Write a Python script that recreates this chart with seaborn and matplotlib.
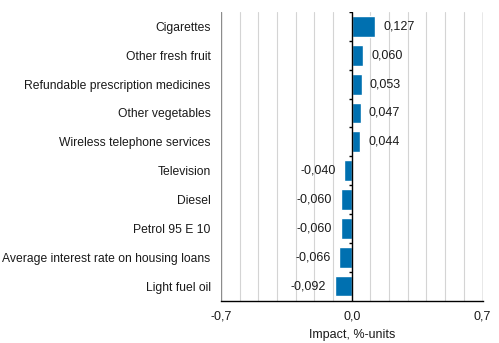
import matplotlib
matplotlib.use("Agg")
import matplotlib.pyplot as plt
import seaborn as sns
import pandas as pd
import numpy as np

categories = [
    "Cigarettes",
    "Other fresh fruit",
    "Refundable prescription medicines",
    "Other vegetables",
    "Wireless telephone services",
    "Television",
    "Diesel",
    "Petrol 95 E 10",
    "Average interest rate on housing loans",
    "Light fuel oil",
]
impact = [0.127, 0.060, 0.053, 0.047, 0.044, -0.040, -0.060, -0.060, -0.066, -0.092]
x_ticks = [-0.7, 0.0, 0.7]
x_tick_labels = ["-0,7", "0,0", "0,7"]
x_title = "Impact, %-units"

df = pd.DataFrame({"category": categories, "impact": impact})

sns.set_style("white")
plt.rcParams["font.family"] = ["Liberation Sans", "DejaVu Sans"]
plt.rcParams["font.size"] = 9

fig = plt.figure(figsize=(4.99, 3.43), dpi=100)
ax = fig.add_axes([221 / 499, 1 - 300.5 / 343, (482.5 - 221) / 499, (300.5 - 12) / 343])

sns.barplot(data=df, y="category", x="impact", orient="h", color="#0070b0",
            saturation=1, width=0.72, ax=ax, zorder=3)

ax.set_xlim(-0.7, 0.7)
ax.set_ylim(len(categories) - 0.5, -0.5)

# vertical gridlines every 0.1
for g in np.round(np.arange(-0.6, 0.61, 0.1), 1):
    if abs(g) < 1e-9:
        continue
    ax.axvline(g, color="#d4d4d4", lw=0.8, zorder=1)
for g in (-0.7, 0.7):
    ax.axvline(g, color="#8c8c8c", lw=1.0, zorder=1)

# zero line with category separators
ax.axvline(0, color="black", lw=1.0, zorder=4)
tick_len = 0.016
for b in np.arange(-0.5, len(categories) - 0.5, 1.0):
    ax.plot([-tick_len, 0], [b, b], color="black", lw=1.0, zorder=4, solid_capstyle="butt")

for s in ("top", "right", "left"):
    ax.spines[s].set_visible(False)
ax.spines["bottom"].set_color("black")
ax.spines["bottom"].set_linewidth(1.0)

ax.set_xticks(x_ticks)
ax.set_xticklabels(x_tick_labels)
ax.tick_params(axis="x", direction="out", length=4, width=1, color="black",
               labelsize=9, pad=3, labelcolor="#1a1a1a")
ax.tick_params(axis="y", length=0, pad=7.5, labelsize=8.7, labelcolor="#1a1a1a")
ax.set_ylabel("")
ax.set_xlabel(x_title, fontsize=9, color="#1a1a1a", labelpad=5)

container = ax.containers[0]
labels = [f"{v:.3f}".replace(".", ",") for v in impact]
ax.bar_label(container, labels=labels, padding=6, fontsize=9, color="#1a1a1a")

fig.savefig("out.png", dpi=100)
